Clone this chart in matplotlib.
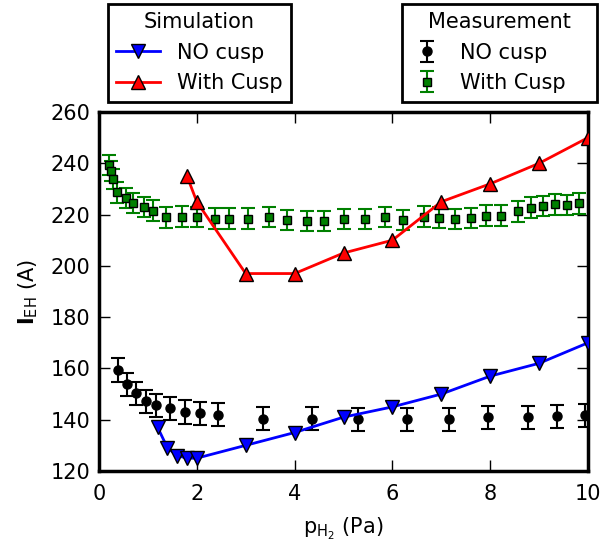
import numpy as np
import matplotlib
matplotlib.use('Agg')
import matplotlib.pyplot as plt

# simulation
sim_no_x = [1.2, 1.4, 1.6, 1.8, 2.0, 3, 4, 5, 6, 7, 8, 9, 10]
sim_no_y = [137, 129, 126, 125, 125, 130, 135, 141, 145, 150, 157, 162, 170]
sim_cu_x = [1.8, 2.0, 3, 4, 5, 6, 7, 8, 9, 10]
sim_cu_y = [235, 225, 197, 197, 205, 210, 225, 232, 240, 250]

# measurement
mes_no_x = [0.39, 0.58, 0.76, 0.97, 1.17, 1.45, 1.76, 2.07, 2.43, 3.35, 4.35,
            5.30, 6.29, 7.16, 7.96, 8.77, 9.36, 9.94]
mes_no_y = [159.4, 153.8, 150.3, 147.2, 145.7, 144.4, 143.0, 142.5, 141.9, 140.3, 140.3,
            140.2, 140.1, 140.2, 141.0, 141.0, 141.3, 141.8]
mes_no_err = 4.5
mes_cu_x = [0.20, 0.24, 0.28, 0.36, 0.55, 0.70, 0.93, 1.10, 1.38, 1.70, 2.01, 2.37, 2.66,
            3.05, 3.48, 3.84, 4.26, 4.61, 5.00, 5.44, 5.84, 6.22, 6.65, 6.95, 7.28,
            7.61, 7.91, 8.22, 8.57, 8.83, 9.07, 9.33, 9.58, 9.82]
mes_cu_y = [239.3, 237.0, 233.8, 228.7, 226.4, 224.6, 223.0, 221.5, 218.9, 219.2, 219.0,
            218.4, 218.4, 218.4, 219.0, 217.9, 217.5, 217.5, 218.3, 218.3, 219.0, 217.9,
            219.2, 218.8, 218.3, 218.6, 219.6, 219.6, 221.2, 222.7, 223.4, 224.0, 223.8, 224.4]
mes_cu_err = 4.0

plt.rcParams['font.size'] = 15
plt.rcParams['xtick.direction'] = 'in'
plt.rcParams['ytick.direction'] = 'in'

fig = plt.figure(figsize=(6.02, 5.47), dpi=100)
ax = fig.add_axes([99/602, 1 - 471/547, (588 - 99)/602, (471 - 112)/547])

l1, = ax.plot(sim_no_x, sim_no_y, '-v', color='blue', lw=2, ms=10, mec='black', mew=1,
              label='NO cusp', zorder=5)
l2, = ax.plot(sim_cu_x, sim_cu_y, '-^', color='red', lw=2, ms=10, mec='black', mew=1,
              label='With Cusp', zorder=5)
e1 = ax.errorbar(mes_no_x, mes_no_y, yerr=mes_no_err, fmt='o', color='black', ms=6.5,
                 elinewidth=1.5, capsize=5, capthick=1.5, label='NO cusp', zorder=3)
e2 = ax.errorbar(mes_cu_x, mes_cu_y, yerr=mes_cu_err, fmt='s', color='green', mfc='green',
                 mec='black', ms=6, elinewidth=1.5, capsize=5, capthick=1.5,
                 label='With Cusp', zorder=3)

ax.set_xlim(0, 10)
ax.set_ylim(120, 260)
ax.set_xticks([0, 2, 4, 6, 8, 10])
ax.set_yticks(np.arange(120, 261, 20))
ax.tick_params(top=True, right=True, length=8, width=1)
ax.tick_params(axis='x', pad=9)
ax.tick_params(axis='y', pad=6)
for s in ax.spines.values():
    s.set_linewidth(2.5)

ax.set_xlabel(r'p$_{\mathrm{H_2}}$ (Pa)', labelpad=9)
ax.set_ylabel(r'$\mathbf{I}_{\mathrm{EH}}$ (A)', labelpad=8)

leg1 = fig.legend(handles=[l1, l2], title='Simulation', loc='upper left',
                  bbox_to_anchor=(108/602, 1 - 4/547), fancybox=False, edgecolor='black',
                  framealpha=1, borderaxespad=0, fontsize=15, title_fontsize=15,
                  handlelength=2.1)
leg1.get_frame().set_linewidth(2)
leg2 = fig.legend(handles=[e1, e2], title='Measurement', loc='upper left',
                  bbox_to_anchor=(402/602, 1 - 101/547, 195/602, 97/547), mode='expand',
                  fancybox=False, edgecolor='black',
                  framealpha=1, borderaxespad=0, fontsize=15, title_fontsize=15,
                  handlelength=1.6)
leg2.get_frame().set_linewidth(2)

fig.savefig('out.png', dpi=100)
